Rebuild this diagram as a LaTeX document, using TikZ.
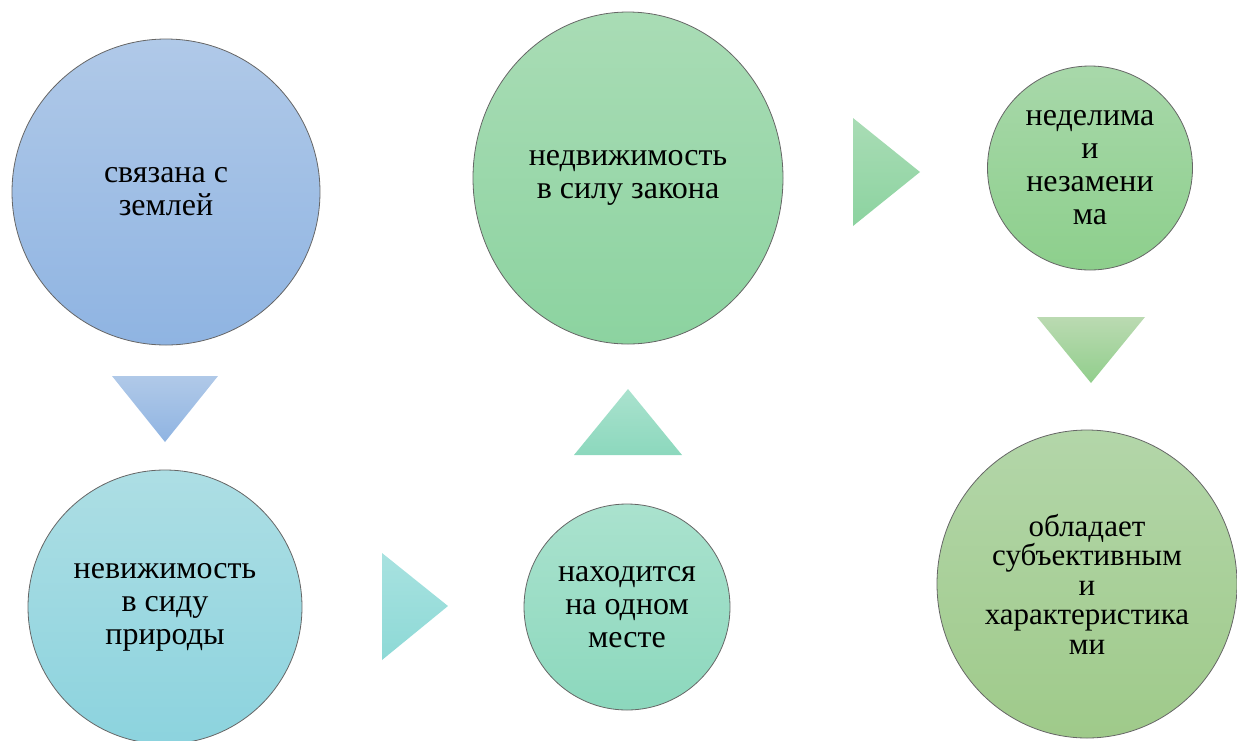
\documentclass[tikz,border=0pt]{standalone}
\usepackage{fontspec}
\setmainfont{Liberation Serif}
\newfontfamily\bubblefont{Liberation Serif}
\usetikzlibrary{shapes.geometric}

\definecolor{blueA}{HTML}{B0C9E8}\definecolor{blueB}{HTML}{8FB4E2}
\definecolor{cyanA}{HTML}{ADDEE4}\definecolor{cyanB}{HTML}{8CD3DE}
\definecolor{tealA}{HTML}{A8E2E0}\definecolor{tealB}{HTML}{8DD9D6}
\definecolor{mintA}{HTML}{AAE2CE}\definecolor{mintB}{HTML}{8CD8BD}
\definecolor{jadeA}{HTML}{A9DCB5}\definecolor{jadeB}{HTML}{8CD3A0}
\definecolor{leafA}{HTML}{A8D8AA}\definecolor{leafB}{HTML}{8DCF8C}
\definecolor{sageA}{HTML}{B3D6A9}\definecolor{sageB}{HTML}{9FCA8A}

\begin{document}
\begin{tikzpicture}[x=1pt,y=-1pt,every node/.style={ellipse,draw=black!60,line width=.8pt,inner sep=0pt,align=center,font=\bubblefont\fontsize{32}{33}\selectfont},
  size/.style 2 args={minimum width=#1pt,minimum height=#2pt}]
\useasboundingbox (0,0) rectangle (1237,740);

\node [size={308}{306},top color=blueA,bottom color=blueB] (zemlya) at (166,192) {связана с\\землей};
\node [size={274}{274},top color=cyanA,bottom color=cyanB] (priroda) at (165,607) {невижимость\\в сиду\\природы};
\node [size={206}{206},top color=mintA,bottom color=mintB] (mesto) at (627,607) {находится\\на одном\\месте};
\node [size={310}{332},top color=jadeA,bottom color=jadeB] (zakon) at (628,178) {недвижимость\\в силу закона};
\node [size={205}{204},top color=leafA,bottom color=leafB] (nedelima) at (1090,168) {неделима\\и\\незамени\\ма};
\node [size={300}{308},top color=sageA,bottom color=sageB,font=\bubblefont\fontsize{31}{29.5}\selectfont] (subj) at (1087,584) {обладает\\субъективным\\и\\характеристика\\ми};

% triangles
\path [top color=blueA,bottom color=blueB] (112,376) -- (218,376) -- (165,442) -- cycle;
\path [top color=tealA,bottom color=tealB] (382,553) -- (448,606) -- (382,660) -- cycle;
\path [top color=mintA,bottom color=mintB] (628,389) -- (682,455) -- (574,455) -- cycle;
\path [top color=jadeA,bottom color=jadeB] (853,118) -- (920,172) -- (853,226) -- cycle;
\path [top color=sageA!90!white,bottom color=leafB!80!sageB] (1037,317) -- (1145,317) -- (1091,383) -- cycle;
\end{tikzpicture}
\end{document}
